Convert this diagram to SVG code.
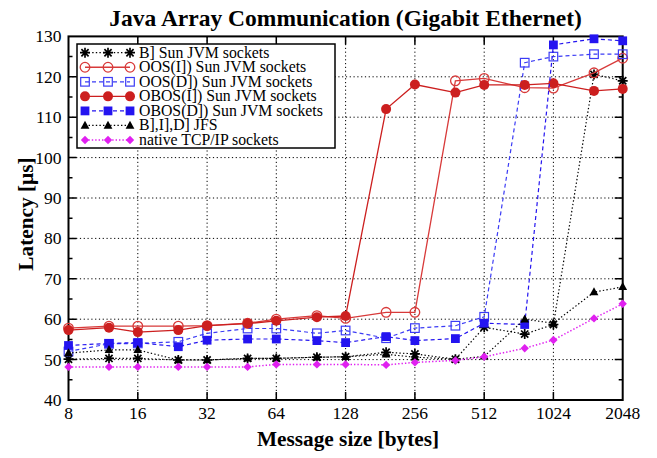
<svg xmlns="http://www.w3.org/2000/svg" width="657" height="458" viewBox="0 0 657 458">
  <style>
    text { font-family: "Liberation Serif", "Times New Roman", serif; fill: #000; }
    .title { font-size: 23.5px; font-weight: bold; text-anchor: middle; }
    .axlabel { font-size: 21.3px; font-weight: bold; text-anchor: middle; }
    .tick { font-size: 17.5px; }
    .ytick { text-anchor: end; }
    .xtick { text-anchor: middle; }
    .legtext { font-size: 15.8px; }
    .frame { fill: none; stroke: #000; stroke-width: 2; }
    .grid { fill: none; stroke: #000; stroke-width: 1; stroke-dasharray: 1.2 2.6; }
    .tk { fill: none; stroke: #000; stroke-width: 1.5; }
    .s-bsun { fill: none; stroke: #000; stroke-width: 1.2; stroke-dasharray: 1.4 2.2; marker-start: url(#mk-ast); marker-mid: url(#mk-ast); marker-end: url(#mk-ast); }
    .s-oosi { fill: none; stroke: #d83a3a; stroke-width: 1.3; marker-start: url(#mk-ocirc); marker-mid: url(#mk-ocirc); marker-end: url(#mk-ocirc); }
    .s-oosd { fill: none; stroke: #3b3bf5; stroke-width: 1.2; stroke-dasharray: 4 3; marker-start: url(#mk-osq); marker-mid: url(#mk-osq); marker-end: url(#mk-osq); }
    .s-obosi { fill: none; stroke: #cc1f1f; stroke-width: 1.3; marker-start: url(#mk-fcirc); marker-mid: url(#mk-fcirc); marker-end: url(#mk-fcirc); }
    .s-obosd { fill: none; stroke: #2414f0; stroke-width: 1.2; stroke-dasharray: 4 3; marker-start: url(#mk-fsq); marker-mid: url(#mk-fsq); marker-end: url(#mk-fsq); }
    .s-jfs { fill: none; stroke: #000; stroke-width: 1.2; stroke-dasharray: 1.4 2.2; marker-start: url(#mk-tri); marker-mid: url(#mk-tri); marker-end: url(#mk-tri); }
    .s-tcp { fill: none; stroke: #e020f0; stroke-width: 1.5; stroke-dasharray: 1.4 2; marker-start: url(#mk-dia); marker-mid: url(#mk-dia); marker-end: url(#mk-dia); }
  </style>
  <defs>
    <marker id="mk-ast" markerUnits="userSpaceOnUse" viewBox="-7 -7 14 14" markerWidth="14" markerHeight="14" refX="0" refY="0" overflow="visible">
      <path d="M-5,0H5M0,-5V5M-3.6,-3.6L3.6,3.6M-3.6,3.6L3.6,-3.6" fill="none" stroke="#000" stroke-width="1.7"/>
    </marker>
    <marker id="mk-ocirc" markerUnits="userSpaceOnUse" viewBox="-7 -7 14 14" markerWidth="14" markerHeight="14" refX="0" refY="0" overflow="visible">
      <circle r="4.8" fill="none" stroke="#d83a3a" stroke-width="1.3"/>
    </marker>
    <marker id="mk-fcirc" markerUnits="userSpaceOnUse" viewBox="-7 -7 14 14" markerWidth="14" markerHeight="14" refX="0" refY="0" overflow="visible">
      <circle r="5" fill="#cc1f1f"/>
    </marker>
    <marker id="mk-osq" markerUnits="userSpaceOnUse" viewBox="-7 -7 14 14" markerWidth="14" markerHeight="14" refX="0" refY="0" overflow="visible">
      <rect x="-4.3" y="-4.3" width="8.6" height="8.6" fill="none" stroke="#3b3bf5" stroke-width="1.2"/>
    </marker>
    <marker id="mk-fsq" markerUnits="userSpaceOnUse" viewBox="-7 -7 14 14" markerWidth="14" markerHeight="14" refX="0" refY="0" overflow="visible">
      <rect x="-4.4" y="-4.4" width="8.8" height="8.8" fill="#2414f0"/>
    </marker>
    <marker id="mk-tri" markerUnits="userSpaceOnUse" viewBox="-7 -7 14 14" markerWidth="14" markerHeight="14" refX="0" refY="0" overflow="visible">
      <path d="M0,-4.8L4.4,3.2H-4.4Z" fill="#000"/>
    </marker>
    <marker id="mk-dia" markerUnits="userSpaceOnUse" viewBox="-7 -7 14 14" markerWidth="14" markerHeight="14" refX="0" refY="0" overflow="visible">
      <path d="M0,-4.2L4.2,0L0,4.2L-4.2,0Z" fill="#e020f0"/>
    </marker>
  </defs>

  <rect width="657" height="458" fill="#fff"/>

  <text class="title" x="345.6" y="26">Java Array Communication (Gigabit Ethernet)</text>

  <!-- grid -->
  <g id="grid">
    <path class="grid" d="M68.5,359.6H622.7M68.5,319.2H622.7M68.5,278.8H622.7M68.5,238.4H622.7M68.5,198H622.7M68.5,157.6H622.7M68.5,117.2H622.7M68.5,76.8H622.7"/>
    <path class="grid" d="M137.8,36.4V400M207.1,36.4V400M276.3,36.4V400M345.6,36.4V400M414.9,36.4V400M484.2,36.4V400M553.4,36.4V400"/>
  </g>

  <!-- axes frame and ticks -->
  <g id="axes">
    <rect class="frame" x="68.5" y="36.4" width="554.2" height="363.6"/>
    <path class="tk" d="M68.5,359.6h8M68.5,319.2h8M68.5,278.8h8M68.5,238.4h8M68.5,198h8M68.5,157.6h8M68.5,117.2h8M68.5,76.8h8
      M68.5,379.8h4M68.5,339.4h4M68.5,299h4M68.5,258.6h4M68.5,218.2h4M68.5,177.8h4M68.5,137.4h4M68.5,97h4M68.5,56.6h4
      M622.7,359.6h-8M622.7,319.2h-8M622.7,278.8h-8M622.7,238.4h-8M622.7,198h-8M622.7,157.6h-8M622.7,117.2h-8M622.7,76.8h-8
      M622.7,379.8h-4M622.7,339.4h-4M622.7,299h-4M622.7,258.6h-4M622.7,218.2h-4M622.7,177.8h-4M622.7,137.4h-4M622.7,97h-4M622.7,56.6h-4
      M137.8,400v-8M207.1,400v-8M276.3,400v-8M345.6,400v-8M414.9,400v-8M484.2,400v-8M553.4,400v-8
      M137.8,36.4v8M207.1,36.4v8M276.3,36.4v8M345.6,36.4v8M414.9,36.4v8M484.2,36.4v8M553.4,36.4v8"/>
    <g class="tick ytick">
      <text x="61.5" y="406">40</text>
      <text x="61.5" y="365.6">50</text>
      <text x="61.5" y="325.2">60</text>
      <text x="61.5" y="284.8">70</text>
      <text x="61.5" y="244.4">80</text>
      <text x="61.5" y="204">90</text>
      <text x="61.5" y="163.6">100</text>
      <text x="61.5" y="123.2">110</text>
      <text x="61.5" y="82.8">120</text>
      <text x="61.5" y="42.4">130</text>
    </g>
    <g class="tick xtick">
      <text x="68.5" y="419">8</text>
      <text x="137.8" y="419">16</text>
      <text x="207.1" y="419">32</text>
      <text x="276.3" y="419">64</text>
      <text x="345.6" y="419">128</text>
      <text x="414.9" y="419">256</text>
      <text x="484.2" y="419">512</text>
      <text x="553.4" y="419">1024</text>
      <text x="622.7" y="419">2048</text>
    </g>
    <text class="axlabel" x="348" y="446">Message size [bytes]</text>
    <text class="axlabel" transform="translate(33,214) rotate(-90)">Latency [µs]</text>
  </g>

  <!-- data series -->
  <g id="series">
    <polyline id="bsun" class="s-bsun" points="68.5,359.2 109,358.4 137.8,358.4 178.3,360 207.1,360 247.6,358.4 276.3,358.4 316.9,357.2 345.6,356.8 386.1,352.3 414.9,353.9 455.4,359.2 484.2,327.3 524.7,334.1 553.4,324.5 594,74.4 622.7,80.8"/>
    <polyline id="oosi" class="s-oosi" points="68.5,328.1 109,326.1 137.8,326.1 178.3,326.1 207.1,325.7 247.6,323.2 276.3,319.2 316.9,315.6 345.6,318.4 386.1,312.3 414.9,312.3 455.4,80.8 484.2,78.4 524.7,87.7 553.4,88.1 594,72.8 622.7,58.2"/>
    <polyline id="oosd" class="s-oosd" points="68.5,351.5 109,343.8 137.8,343.4 178.3,341.8 207.1,333.3 247.6,328.5 276.3,328.5 316.9,333.3 345.6,330.5 386.1,338.2 414.9,328.1 455.4,325.7 484.2,316.8 524.7,62.7 553.4,56.6 594,54.2 622.7,54.2"/>
    <polyline id="obosi" class="s-obosi" points="68.5,330.1 109,327.7 137.8,332.1 178.3,330.1 207.1,325.7 247.6,323.6 276.3,320.8 316.9,317.2 345.6,316 386.1,109.1 414.9,84.5 455.4,92.6 484.2,84.9 524.7,84.9 553.4,83.3 594,90.9 622.7,88.9"/>
    <polyline id="obosd" class="s-obosd" points="68.5,345.5 109,343.4 137.8,342.6 178.3,346.7 207.1,340.2 247.6,339 276.3,339 316.9,340.6 345.6,342.6 386.1,336.6 414.9,340.6 455.4,338.6 484.2,323.2 524.7,324.5 553.4,44.9 594,38.8 622.7,40.8"/>
    <polyline id="jfs" class="s-jfs" points="68.5,353.1 109,349.9 137.8,349.9 178.3,360 207.1,360 247.6,358.4 276.3,358.4 316.9,357.2 345.6,356.8 386.1,354.3 414.9,357.2 455.4,359.2 484.2,356.4 524.7,319.2 553.4,323.2 594,292.1 622.7,286.9"/>
    <polyline id="tcp" class="s-tcp" points="68.5,366.9 109,366.9 137.8,366.9 178.3,366.9 207.1,366.9 247.6,366.9 276.3,364.4 316.9,364.4 345.6,364.4 386.1,364.9 414.9,362.4 455.4,360.4 484.2,356.8 524.7,348.3 553.4,340 594,318.4 622.7,303.8"/>
  </g>

  <!-- legend -->
  <g id="legend">
    <rect x="77" y="44" width="258" height="104" fill="#fff" stroke="#000" stroke-width="1.5"/>
    <polyline class="s-bsun" points="85,52.7 108,52.7 130,52.7"/>
    <text class="legtext" x="139" y="57.5">B] Sun JVM sockets</text>
    <polyline class="s-oosi" points="85,67.25 108,67.25 130,67.25"/>
    <text class="legtext" x="139" y="72">OOS(I]) Sun JVM sockets</text>
    <polyline class="s-oosd" points="85,81.8 108,81.8 130,81.8"/>
    <text class="legtext" x="139" y="86.6">OOS(D]) Sun JVM sockets</text>
    <polyline class="s-obosi" points="85,96.35 108,96.35 130,96.35"/>
    <text class="legtext" x="139" y="101.1">OBOS(I]) Sun JVM sockets</text>
    <polyline class="s-obosd" points="85,110.9 108,110.9 130,110.9"/>
    <text class="legtext" x="139" y="115.7">OBOS(D]) Sun JVM sockets</text>
    <polyline class="s-jfs" points="85,125.45 108,125.45 130,125.45"/>
    <text class="legtext" x="139" y="130.2">B],I],D] JFS</text>
    <polyline class="s-tcp" points="85,140 108,140 130,140"/>
    <text class="legtext" x="139" y="144.8">native TCP/IP sockets</text>
  </g>
</svg>
